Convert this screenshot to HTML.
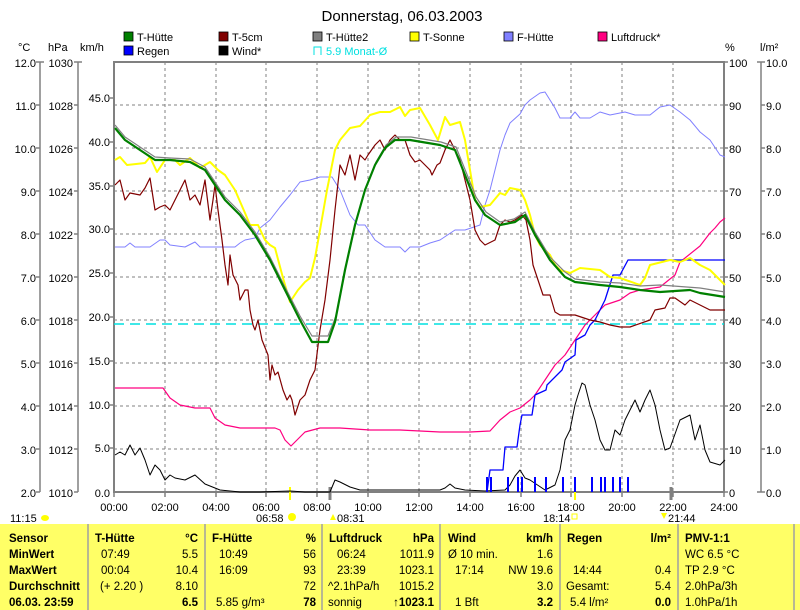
<!DOCTYPE html>
<html><head><meta charset="utf-8"><style>
body{margin:0;background:#fff;}
svg{display:block;font-family:"Liberation Sans",sans-serif;}
</style></head><body>
<svg width="800" height="610" xmlns="http://www.w3.org/2000/svg">
<rect width="800" height="610" fill="#fff"/>
<text x="402" y="21" font-size="15" text-anchor="middle">Donnerstag, 06.03.2003</text>
<g font-size="11">
<rect x="124" y="32" width="9" height="9" fill="#008000" stroke="#000" stroke-width="0.8"/><text x="137" y="41">T-Hütte</text>
<rect x="219" y="32" width="9" height="9" fill="#800000" stroke="#000" stroke-width="0.8"/><text x="232" y="41">T-5cm</text>
<rect x="313" y="32" width="9" height="9" fill="#808080" stroke="#000" stroke-width="0.8"/><text x="326" y="41">T-Hütte2</text>
<rect x="410" y="32" width="9" height="9" fill="#ffff00" stroke="#000" stroke-width="0.8"/><text x="423" y="41">T-Sonne</text>
<rect x="504" y="32" width="9" height="9" fill="#8080ff" stroke="#000" stroke-width="0.8"/><text x="517" y="41">F-Hütte</text>
<rect x="598" y="32" width="9" height="9" fill="#ff0080" stroke="#000" stroke-width="0.8"/><text x="611" y="41">Luftdruck*</text>
<rect x="124" y="46" width="9" height="9" fill="#0000ff" stroke="#000" stroke-width="0.8"/><text x="137" y="55">Regen</text>
<rect x="219" y="46" width="9" height="9" fill="#000" stroke="#000" stroke-width="0.8"/><text x="232" y="55">Wind*</text>
<path d="M314 55V47h7v8" fill="none" stroke="#00e0e0"/><text x="326" y="55" fill="#00e0e0">5.9 Monat-Ø</text>
<text x="18" y="51">°C</text><text x="48" y="51">hPa</text><text x="80" y="51">km/h</text>
<text x="725" y="51">%</text><text x="760" y="51">l/m²</text>
</g>
<g stroke="#808080" stroke-dasharray="3,3" stroke-width="1">
<path d="M114 105H724M114 148H724M114 191H724M114 234H724M114 277H724M114 320H724M114 363H724M114 406H724M114 449H724"/>
<path d="M165 62V492M216 62V492M266 62V492M317 62V492M368 62V492M419 62V492M470 62V492M521 62V492M571 62V492M622 62V492M673 62V492"/>
</g>
<rect x="114" y="62" width="610" height="430" fill="none" stroke="#808080" stroke-width="2"/>
<g stroke="#808080" stroke-width="1.5" fill="none">
<path d="M40 62V492M78 62V492M761 62V492"/>
<path d="M36 62H44M36 105H40M36 148H40M36 191H40M36 234H40M36 277H40M36 320H40M36 363H40M36 406H40M36 449H40M36 492H40"/>
<path d="M74 62H82M74 105H78M74 148H78M74 191H78M74 234H78M74 277H78M74 320H78M74 363H78M74 406H78M74 449H78M74 492H78"/>
<path d="M110 98H114M110 142H114M110 186H114M110 229H114M110 273H114M110 317H114M110 361H114M110 405H114M110 448H114"/>
<path d="M724 62H728M724 105H728M724 148H728M724 191H728M724 234H728M724 277H728M724 320H728M724 363H728M724 406H728M724 449H728M724 492H728"/>
<path d="M757 62H765M761 105H765M761 148H765M761 191H765M761 234H765M761 277H765M761 320H765M761 363H765M761 406H765M761 449H765M757 492H765"/>
<path d="M114 492V497M165 492V497M216 492V497M266 492V497M317 492V497M368 492V497M419 492V497M470 492V497M521 492V497M571 492V497M622 492V497M673 492V497M724 492V497"/>
</g>
<path d="M330 487V500M671 487V500" stroke="#808080" stroke-width="3"/>
<path d="M290 487V500M575 487V500" stroke="#ffff00" stroke-width="2"/>
<g font-size="11" text-anchor="end">
<text x="36" y="67">12.0</text><text x="36" y="110">11.0</text><text x="36" y="153">10.0</text><text x="36" y="196">9.0</text><text x="36" y="239">8.0</text><text x="36" y="282">7.0</text><text x="36" y="325">6.0</text><text x="36" y="368">5.0</text><text x="36" y="411">4.0</text><text x="36" y="454">3.0</text><text x="36" y="497">2.0</text>
<text x="73" y="67">1030</text><text x="73" y="110">1028</text><text x="73" y="153">1026</text><text x="73" y="196">1024</text><text x="73" y="239">1022</text><text x="73" y="282">1020</text><text x="73" y="325">1018</text><text x="73" y="368">1016</text><text x="73" y="411">1014</text><text x="73" y="454">1012</text><text x="73" y="497">1010</text>
<text x="110" y="102">45.0</text><text x="110" y="146">40.0</text><text x="110" y="190">35.0</text><text x="110" y="233">30.0</text><text x="110" y="277">25.0</text><text x="110" y="321">20.0</text><text x="110" y="365">15.0</text><text x="110" y="409">10.0</text><text x="110" y="452">5.0</text><text x="110" y="497">0.0</text>
</g>
<g font-size="11">
<text x="729" y="67">100</text><text x="729" y="110">90</text><text x="729" y="153">80</text><text x="729" y="196">70</text><text x="729" y="239">60</text><text x="729" y="282">50</text><text x="729" y="325">40</text><text x="729" y="368">30</text><text x="729" y="411">20</text><text x="729" y="454">10</text><text x="729" y="497">0</text>
<text x="766" y="67">10.0</text><text x="766" y="110">9.0</text><text x="766" y="153">8.0</text><text x="766" y="196">7.0</text><text x="766" y="239">6.0</text><text x="766" y="282">5.0</text><text x="766" y="325">4.0</text><text x="766" y="368">3.0</text><text x="766" y="411">2.0</text><text x="766" y="454">1.0</text><text x="766" y="497">0.0</text>
</g>
<g font-size="11" text-anchor="middle">
<text x="114" y="511">00:00</text><text x="165" y="511">02:00</text><text x="216" y="511">04:00</text><text x="266" y="511">06:00</text><text x="317" y="511">08:00</text><text x="368" y="511">10:00</text><text x="419" y="511">12:00</text><text x="470" y="511">14:00</text><text x="521" y="511">16:00</text><text x="571" y="511">18:00</text><text x="622" y="511">20:00</text><text x="673" y="511">22:00</text><text x="724" y="511">24:00</text>
</g>
<g font-size="11">
<text x="10" y="522">11:15</text><ellipse cx="45" cy="518" rx="4" ry="3" fill="#ffff00"/>
<text x="256" y="522">06:58</text><circle cx="292" cy="517" r="4" fill="#ffff00"/>
<text x="337" y="522">08:31</text><path d="M330 520l3-6 3 6z" fill="#ffff00"/>
<text x="543" y="522">18:14</text><rect x="572" y="514" width="5" height="5" fill="none" stroke="#ffff00"/>
<text x="668" y="522">21:44</text><path d="M661 513l3 6 3-6z" fill="#ffff00"/>
</g>
<path d="M114 324H724" stroke="#00e0e0" stroke-dasharray="10,6" stroke-width="1.5"/>
<g fill="none" stroke-linejoin="round">
<polyline stroke="#8080ff" stroke-width="1" points="115,247 125,247 130,243 135,247 150,247 160,240 165,240 170,245 185,247 195,242 200,247 215,247 235,247 240,243 245,240 255,238 260,228 270,220 280,207 290,195 300,182 310,180 320,177 332,177 340,190 350,215 358,225 365,225 375,240 385,247 400,247 405,252 410,247 420,247 430,243 440,240 455,230 465,230 480,225 485,205 490,190 495,170 500,150 505,135 510,123 520,114 525,105 530,100 540,93 545,92 550,100 555,108 560,118 570,118 575,112 580,118 590,118 600,112 610,115 625,112 635,115 650,115 660,107 670,105 680,112 690,120 700,132 710,140 720,155 725,157"/>
<polyline stroke="#ff0080" stroke-width="1.2" points="115,388 163,388 170,398 180,405 195,408 210,408 215,418 225,425 240,428 275,428 280,430 285,440 291,446 297,440 305,432 320,428 340,428 370,430 400,430 440,432 470,432 490,431 500,420 510,412 520,408 530,400 535,395 545,380 555,365 565,355 575,340 585,325 595,315 605,305 620,300 630,293 640,290 660,287 675,275 680,262 700,246 710,233 715,228 720,222 725,218"/>
<polyline stroke="#000" stroke-width="1" points="115,455 120,452 125,455 130,445 135,455 140,448 145,460 150,475 155,465 160,470 165,480 170,475 175,478 185,480 195,475 205,484 220,490 240,492 260,492 290,491 305,492 330,492 335,480 340,482 350,487 360,490 400,490 440,490 445,488 450,484 455,488 465,490 485,491 505,490 510,485 515,476 520,470 525,478 530,480 545,490 555,485 560,470 565,440 570,430 575,405 578,395 582,383 585,385 590,405 595,420 600,440 605,450 610,450 615,430 620,435 625,420 630,410 635,400 640,412 645,400 650,390 655,405 660,430 665,450 670,448 680,420 690,415 695,440 700,425 705,450 710,462 720,465 725,460"/>
<polyline stroke="#0000ff" stroke-width="1.3" points="487,492 490,470 503,470 505,447 517,447 520,425 522,415 532,415 535,395 546,390 547,385 562,370 565,362 575,355 576,340 585,335 590,325 595,320 600,310 605,300 613,275 620,275 628,260 725,260"/>
<polyline stroke="#800000" stroke-width="1.2" points="115,185 120,180 125,200 130,193 140,195 145,188 150,178 155,210 160,207 165,205 170,210 175,200 180,190 185,180 190,200 195,195 200,205 205,180 210,220 213,200 215,185 218,210 222,240 225,265 228,285 230,255 233,275 238,285 240,300 245,290 248,290 250,310 253,325 255,330 258,320 262,340 268,355 270,380 272,365 275,375 278,372 283,390 287,400 290,395 292,400 295,415 300,400 305,395 310,380 315,370 320,330 325,300 330,260 335,210 340,165 345,175 350,155 355,180 360,155 365,160 368,155 375,145 380,140 385,150 390,140 395,135 400,140 405,140 410,155 415,162 420,160 430,170 432,175 437,165 440,163 445,150 450,140 455,150 460,160 465,180 470,200 475,230 480,240 485,245 495,240 500,225 505,220 510,222 515,220 522,215 526,220 530,240 533,265 538,280 543,295 550,295 555,312 560,315 575,315 590,320 600,322 610,325 620,327 630,327 650,320 655,310 665,308 670,298 675,298 685,305 690,300 700,305 710,310 725,310"/>
<polyline stroke="#ffff00" stroke-width="2" points="115,160 120,157 127,165 145,163 150,157 157,172 165,160 175,160 180,165 190,158 200,168 210,162 218,170 225,175 235,190 245,213 250,225 258,225 265,240 270,245 275,248 283,278 290,302 298,290 305,282 310,278 315,258 320,230 327,190 335,150 340,140 350,128 360,126 370,115 380,112 390,112 400,107 405,116 410,110 420,108 430,125 438,140 445,117 450,125 460,122 465,140 470,170 475,200 480,207 490,205 500,193 505,195 510,188 520,190 525,200 530,215 535,235 540,245 550,255 555,265 560,270 570,273 580,268 600,270 610,277 620,278 640,285 645,278 650,265 670,260 680,262 690,258 700,265 710,270 725,285"/>
<polyline stroke="#808080" stroke-width="1.2" points="115,125 125,137 140,147 155,157 170,158 190,159 205,167 215,182 225,197 240,212 255,232 270,257 285,287 300,316 312,336 328,336 336,316 346,266 356,222 366,187 376,162 386,145 396,137 411,137 441,142 456,147 466,172 476,197 486,212 500,222 514,219 525,212 535,232 550,257 565,272 575,279 600,282 620,283 640,286 660,285 700,288 725,292"/>
<polyline stroke="#008000" stroke-width="2.2" points="115,128 125,140 140,150 155,160 170,160 190,162 205,170 215,185 225,200 240,215 255,235 270,260 285,290 300,320 312,342 328,342 335,322 345,270 355,225 365,190 375,165 385,148 395,140 410,140 440,145 455,150 465,175 475,200 485,215 500,225 515,222 525,215 535,235 550,260 565,277 575,282 600,285 620,287 640,290 660,292 690,290 700,293 725,297"/>
</g>
<path d="M487 477V492M491 477V492M508 477V492M518 477V492M522 477V492M535 477V492M546 477V492M563 477V492M575 477V492M592 477V492M601 477V492M605 477V492M613 477V492M620 477V492M628 477V492" stroke="#0000ff" stroke-width="2"/>
<rect x="0" y="524" width="800" height="86" fill="#ffff66"/>
<path d="M88 524V610M205 524V610M322 524V610M440 524V610M560 524V610M678 524V610M794 524V610" stroke="#a0a0a0" stroke-width="1.5"/>
<g font-size="11.5">
<g font-weight="bold"><text x="9" y="542">Sensor</text><text x="9" y="558">MinWert</text><text x="9" y="574">MaxWert</text><text x="9" y="590">Durchschnitt</text><text x="9" y="606">06.03. 23:59</text>
<text x="95" y="542">T-Hütte</text><text x="212" y="542">F-Hütte</text><text x="329" y="542">Luftdruck</text><text x="448" y="542">Wind</text><text x="567" y="542">Regen</text><text x="685" y="542">PMV-1:1</text></g>
<g text-anchor="end"><text x="198" y="542" font-weight="bold">°C</text><text x="316" y="542" font-weight="bold">%</text><text x="434" y="542" font-weight="bold">hPa</text><text x="553" y="542" font-weight="bold">km/h</text><text x="671" y="542" font-weight="bold">l/m²</text>
<text x="198" y="558">5.5</text><text x="198" y="574">10.4</text><text x="198" y="590">8.10</text><text x="198" y="606" font-weight="bold">6.5</text>
<text x="316" y="558">56</text><text x="316" y="574">93</text><text x="316" y="590">72</text><text x="316" y="606" font-weight="bold">78</text>
<text x="434" y="558">1011.9</text><text x="434" y="574">1023.1</text><text x="434" y="590">1015.2</text><text x="434" y="606" font-weight="bold">↑1023.1</text>
<text x="553" y="558">1.6</text><text x="553" y="574">NW 19.6</text><text x="553" y="590">3.0</text><text x="553" y="606" font-weight="bold">3.2</text>
<text x="671" y="574">0.4</text><text x="671" y="590">5.4</text><text x="671" y="606" font-weight="bold">0.0</text></g>
<text x="101" y="558">07:49</text><text x="101" y="574">00:04</text><text x="100" y="590">(+ 2.20 )</text>
<text x="219" y="558">10:49</text><text x="219" y="574">16:09</text><text x="216" y="606">5.85 g/m³</text>
<text x="337" y="558">06:24</text><text x="337" y="574">23:39</text><text x="328" y="590">^2.1hPa/h</text><text x="328" y="606">sonnig</text>
<text x="448" y="558">Ø 10 min.</text><text x="455" y="574">17:14</text><text x="455" y="606">1 Bft</text>
<text x="573" y="574">14:44</text><text x="566" y="590">Gesamt:</text><text x="570" y="606">5.4 l/m²</text>
<text x="685" y="558">WC 6.5 °C</text><text x="685" y="574">TP 2.9 °C</text><text x="685" y="590">2.0hPa/3h</text><text x="685" y="606">1.0hPa/1h</text>
</g>
</svg>
</body></html>
